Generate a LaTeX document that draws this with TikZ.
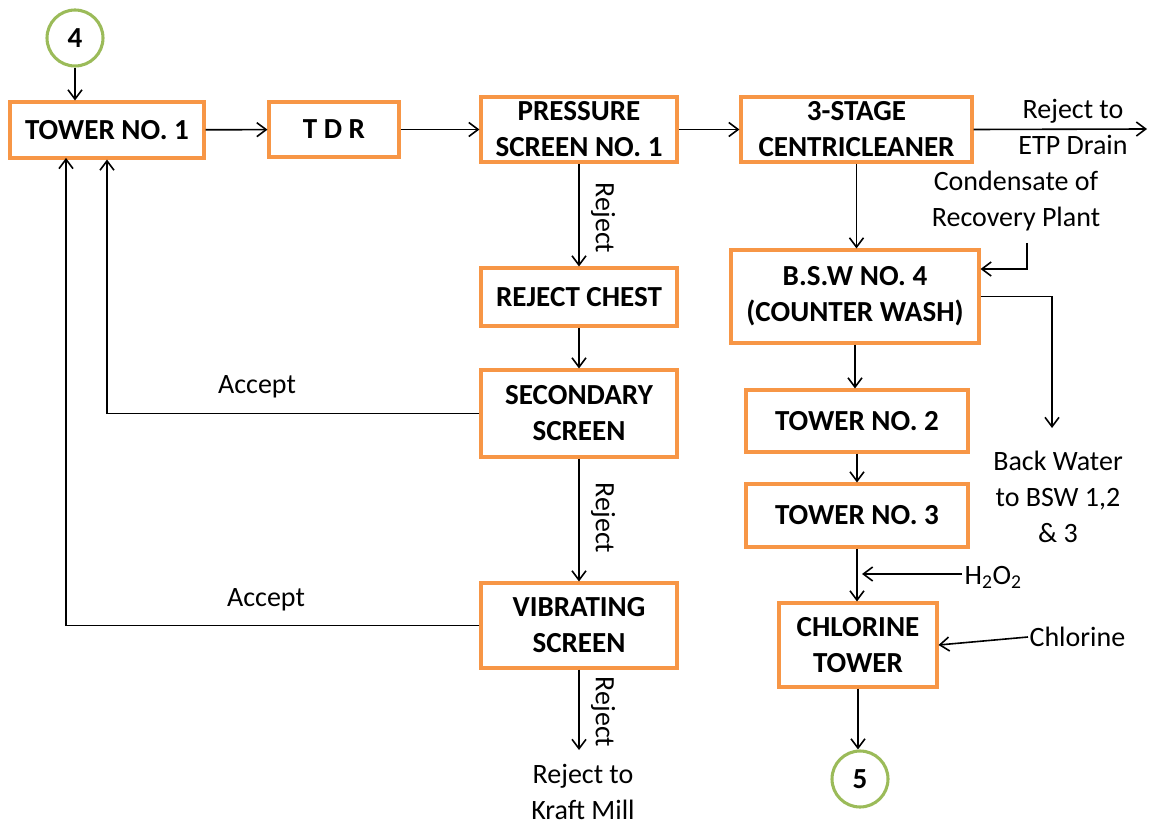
\documentclass[tikz,border=0pt]{standalone}
\usepackage{fontspec}
\setmainfont{Carlito}
\usetikzlibrary{arrows.meta,calc}
\definecolor{boxorange}{HTML}{F79646}
\definecolor{ringgreen}{HTML}{9BBB59}
\tikzset{
  flowbox/.style={draw=boxorange, line width=2.3pt, fill=white, font=\fontsize{21.8}{27}\selectfont\bfseries, align=center, inner sep=0pt},
  ring/.style={circle, draw=ringgreen, line width=2.3pt, minimum size=56*0.75pt, inner sep=0pt, font=\fontsize{21.8}{27}\selectfont\bfseries},
  lbl/.style={font=\fontsize{21}{27}\selectfont, align=center, inner sep=1pt},
  link/.style={line width=1.2pt, -{Straight Barb[length=7pt,width=10.5pt,line width=1.2pt]}},
  plain/.style={line width=1.2pt}
}
% box from pixel corners: name, x1, y1, x2, y2, text
\newcommand\pbox[6]{%
  \node[flowbox, minimum width={(#4-#2)*0.75pt}, minimum height={(#5-#3)*0.75pt}]
    (#1) at ({(#2+#4)/2},{(#3+#5)/2}) {#6};}
\begin{document}
\begin{tikzpicture}[x=0.75pt,y=-0.75pt]
\useasboundingbox (0,0) rectangle (1153,827);

% process boxes
\pbox{tower1}{10}{102}{204}{158}{TOWER NO. 1}
\pbox{tdr}{269}{102}{399}{157}{T D R}
\pbox{press}{481}{97}{677}{162}{PRESSURE\\SCREEN NO. 1}
\pbox{stage}{741}{97}{972}{162}{3-STAGE\\CENTRICLEANER}
\pbox{rchest}{481}{268}{677}{326}{REJECT CHEST}
\pbox{sec}{481}{370}{677}{457}{SECONDARY\\SCREEN}
\pbox{vib}{481}{583}{677}{668}{VIBRATING\\SCREEN}
\pbox{bsw}{731}{250}{979}{343}{B.S.W NO. 4\\(COUNTER WASH)}
\pbox{tower2}{746}{390}{968}{452}{TOWER NO. 2}
\pbox{tower3}{746}{484}{968}{547}{TOWER NO. 3}
\pbox{chlor}{779}{603}{937}{687}{CHLORINE\\TOWER}

% connectors to other sheets
\node[ring] (c4) at (75,38) {4};
\node[ring] (c5) at (860,779) {5};

% free labels
\node[lbl] (etp) at (1073,127) {Reject to\\ETP Drain};
\node[lbl] (cond) at (1016,201) {Condensate of\\Recovery Plant};
\node[lbl] (bw) at (1058,497) {Back Water\\to BSW 1,2\\\& 3};
\node[lbl] (acc1) at (257,387) {Accept};
\node[lbl] (acc2) at (266,600) {Accept};
\node[lbl] (kraft) at (583,792) {Reject to\\Kraft Mill};
\node[lbl, rotate=-90] (rej1) at (603,218) {Reject};
\node[lbl, rotate=-90] (rej2) at (603,518) {Reject};
\node[lbl, rotate=-90] (rej3) at (603,712) {Reject};
\node[lbl, anchor=west] (h2o2) at (963,577) {H\textsubscript{2}O\textsubscript{2}};
\node[lbl, anchor=west] (cl) at (1028,637) {Chlorine};

% helper points for free line ends
\coordinate (etpend) at (1147,129);
\coordinate (condin) at (1027,243);
\coordinate (condturn) at (1027,269);
\coordinate (bwin) at (1052,428);
\coordinate (h2in) at (962,574);
\coordinate (acc2up) at (66,158);
\coordinate (kraftin) at (577,750);

% main line
\draw[link] (c4) -- (c4 |- tower1.north);
\draw[link] (tower1) -- (tdr);
\draw[link] (tdr.east) -- (tdr.east -| press.west);
\draw[link] (press) -- (stage);
\draw[link] (stage.east) -- (etpend);

% screening loop
\draw[link] (press) -- (rchest);
\draw[link] (rchest) -- (sec);
\draw[link] (sec) -- (vib);
\draw[link] (vib.south) -- (vib.south |- kraftin);
\draw[link] (sec.west) -| (tower1.south);
\draw[link] (vib.west) -| (acc2up);

% washing and bleaching
\draw[link] (stage) -- (stage.south |- bsw.north);
\draw[link] (condin) -- (condturn) -- (condturn -| bsw.east);
\draw[link] (bsw.east) -| (bwin);
\draw[link] (bsw.south) -- (bsw.south |- tower2.north);
\draw[link] (tower2) -- (tower3);
\draw[link] (tower3.south) -- (tower3.south |- chlor.north);
\draw[link] (h2in) -- ($(h2in -| tower3.south)+(5,0)$);
\draw[link] (cl.west) -- (chlor.east);
\draw[link] (chlor.south) -- (chlor.south |- c5.north);
\end{tikzpicture}
\end{document}
